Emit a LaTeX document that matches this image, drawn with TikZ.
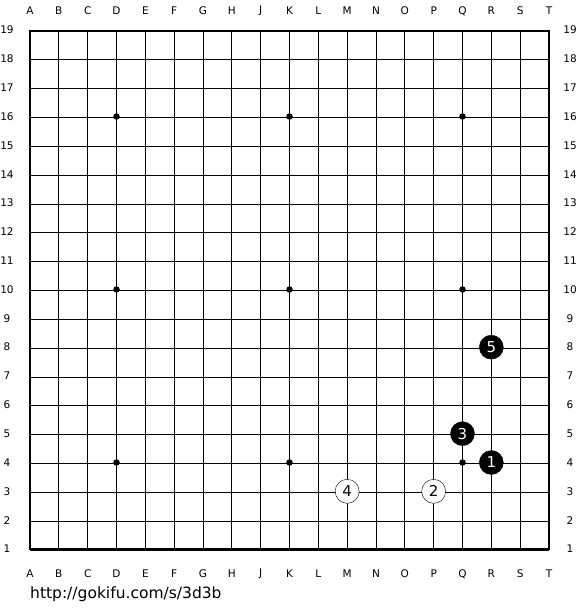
\documentclass[tikz,border=0pt]{standalone}
\usepackage{fontspec}
\setmainfont{DejaVu Sans}
\usepackage{tikz}
\usetikzlibrary{positioning, calc}
\tikzstyle{boardlabel} = [inner sep=0pt, font=\fontsize{10.5}{10.5}\selectfont]
\tikzstyle{blackstone} = [circle, draw=black, fill=black, text=white, minimum size=24pt, inner sep=0pt, font=\fontsize{15}{15}\selectfont]
\tikzstyle{whitestone} = [circle, draw=black, fill=white, text=black, minimum size=24pt, inner sep=0pt, font=\fontsize{15}{15}\selectfont]
\tikzstyle{hoshi} = [circle, fill=black, minimum size=6.5pt, inner sep=0pt]
\newcommand{\gap}{28.833}

\begin{document}
\begin{tikzpicture}[x=1pt, y=-1pt]
    \useasboundingbox[fill=white] (0,0) rectangle (580,610);
    % Grid
    \foreach \i in {0,...,18} {
        \draw[line width=0.8pt] ({30+\i*\gap},31) -- ({30+\i*\gap},549);
        \draw[line width=0.8pt] (30,{31+\i*\gap}) -- (549,{31+\i*\gap});
    }
    \draw[line width=2pt] (30,31) rectangle (549,549);
    % Coordinates
    \foreach \c [count=\i from 0] in {A,B,C,D,E,F,G,H,J,K,L,M,N,O,P,Q,R,S,T} {
        \node[boardlabel] (top\c) at ({30+\i*\gap},11) {\c};
        \node[boardlabel] (bot\c) at ({30+\i*\gap},574) {\c};
        \coordinate (col\c) at ({30+\i*\gap},0);
    }
    \foreach \r in {1,...,19} {
        \node[boardlabel] (left\r) at (7,{549-(\r-1)*\gap}) {\r};
        \node[boardlabel] (right\r) at (570,{549-(\r-1)*\gap}) {\r};
    }
    % Star points
    \foreach \c in {D,K,Q}
        \foreach \r in {4,10,16}
            \node[hoshi] (star\c\r) at (col\c |- left\r) {};
    % Stones
    \node[blackstone] (move1) at (colR |- left4) {1};
    \node[whitestone] (move2) at (colP |- left3) {2};
    \node[blackstone] (move3) at (colQ |- left5) {3};
    \node[whitestone] (move4) at (colM |- left3) {4};
    \node[blackstone] (move5) at (colR |- left8) {5};
    % Source
    \node[anchor=west, inner sep=0pt, font=\fontsize{15.5}{15.5}\selectfont] (url) at (30,594) {http://gokifu.com/s/3d3b};
\end{tikzpicture}
\end{document}
